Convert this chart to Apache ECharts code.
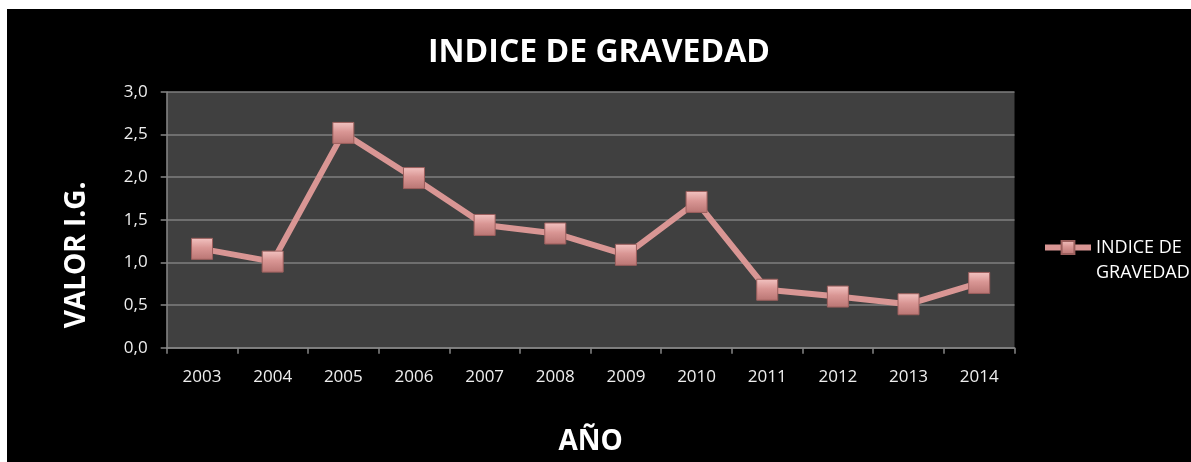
<!DOCTYPE html>
<html>
<head>
<meta charset="utf-8">
<script src="https://cdn.jsdelivr.net/npm/echarts@6/dist/echarts.min.js"></script>
<style>
  html, body { margin: 0; padding: 0; background: #fff; }
  #chart { position: absolute; left: 7px; top: 9px; width: 1184px; height: 453px; background: #000; }
</style>
</head>
<body>
<div id="chart"></div>
<script>
// datos
const years = ['2003', '2004', '2005', '2006', '2007', '2008', '2009', '2010', '2011', '2012', '2013', '2014'];
const indiceGravedad = [1.16, 1.01, 2.52, 1.99, 1.44, 1.34, 1.09, 1.71, 0.68, 0.60, 0.51, 0.76];
const seriesName = 'INDICE DE GRAVEDAD';

const chart = echarts.init(document.getElementById('chart'));
const font = '"Open Sans", "DejaVu Sans", sans-serif';

const markerColor = new echarts.graphic.LinearGradient(0, 0, 0, 1, [
  { offset: 0, color: '#f3c4c2' },
  { offset: 0.45, color: '#d99694' },
  { offset: 1, color: '#b97573' }
]);

chart.setOption({
  backgroundColor: '#000',
  animation: false,
  title: {
    text: 'INDICE DE GRAVEDAD',
    left: 'center',
    top: 23,
    textStyle: { color: '#fff', fontFamily: font, fontWeight: 'bold', fontSize: 32 }
  },
  legend: {
    left: 1035,
    top: 201,
    padding: 0,
    orient: 'vertical',
    itemWidth: 46,
    itemHeight: 16,
    lineStyle: { width: 6 },
    // linea vacia arriba para que el icono quede a la altura del primer renglon
    formatter: () => '\nINDICE DE\nGRAVEDAD',
    textStyle: { color: '#fff', fontFamily: font, fontSize: 18, lineHeight: 25 },
    itemGap: 0
  },
  grid: { left: 159.7, right: 176.5, top: 83, bottom: 114.3 },
  xAxis: {
    type: 'category',
    data: years,
    boundaryGap: true,
    name: 'AÑO',
    nameLocation: 'middle',
    nameGap: 80,
    nameTextStyle: { color: '#fff', fontFamily: font, fontWeight: 'bold', fontSize: 28 },
    axisLine: { lineStyle: { color: '#868686', width: 1.5 } },
    axisTick: { show: true, length: 6, lineStyle: { color: '#868686', width: 1.5 } },
    axisLabel: { color: '#eee', fontFamily: font, fontSize: 17, margin: 21 },
    splitLine: { show: false }
  },
  yAxis: {
    type: 'value',
    min: 0,
    max: 3,
    interval: 0.5,
    name: 'VALOR I.G.',
    nameLocation: 'middle',
    nameGap: 76,
    nameTextStyle: { color: '#fff', fontFamily: font, fontWeight: 'bold', fontSize: 28, padding: [0, 70, 0, 0] },
    axisLine: { show: true, lineStyle: { color: '#868686', width: 1.5 } },
    axisTick: { show: true, length: 6, lineStyle: { color: '#868686', width: 1.5 } },
    axisLabel: {
      color: '#eee', fontFamily: font, fontSize: 17, margin: 19,
      formatter: v => v.toFixed(1).replace('.', ',')
    },
    splitLine: { lineStyle: { color: '#7f7f7f', width: 1.5 } },
    splitArea: { show: true, areaStyle: { color: ['#404040', '#404040'] } }
  },
  series: [{
    name: seriesName,
    type: 'line',
    data: indiceGravedad,
    symbol: 'rect',
    symbolSize: 21,
    lineStyle: { color: '#d99694', width: 6 },
    itemStyle: { color: markerColor, borderColor: '#9c5f5d', borderWidth: 1 }
  }]
});
</script>
</body>
</html>
